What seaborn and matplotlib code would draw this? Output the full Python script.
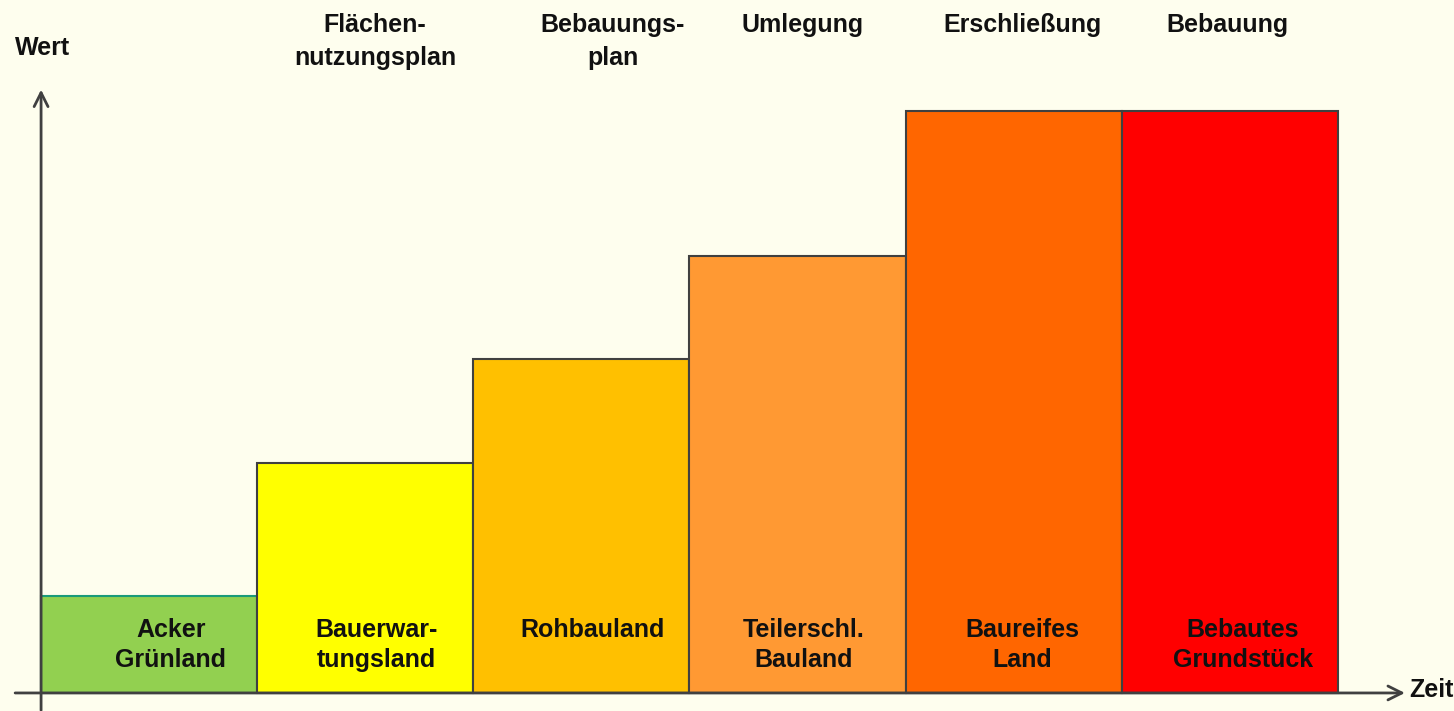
import matplotlib
matplotlib.use("Agg")
import matplotlib.pyplot as plt
import seaborn as sns

sns.set_theme(style="white")
plt.rcParams['font.family'] = ['Liberation Sans', 'DejaVu Sans']

# Daten
stufen = ["Acker\nGrünland", "Bauerwar-\ntungsland", "Rohbauland",
          "Teilerschl.\nBauland", "Baureifes\nLand", "Bebautes\nGrundstück"]
wert = [1.0, 2.37, 3.44, 4.5, 6.0, 6.0]
farben = ["#92D050", "#FFFF00", "#FFC000", "#FF9933", "#FF6600", "#FF0000"]
schritte = ["Flächen-\nnutzungsplan", "Bebauungs-\nplan", "Umlegung",
            "Erschließung", "Bebauung"]

bg = "#FEFEEE"
fig = plt.figure(figsize=(14.54, 7.11), dpi=100, facecolor=bg)
ax = fig.add_axes([0, 0, 1, 1])
ax.set_facecolor(bg)

sns.barplot(x=stufen, y=wert, hue=stufen, palette=farben, width=1.0,
            saturation=1, edgecolor="#404040", linewidth=1.5,
            legend=False, ax=ax)
ax.patches[0].set_edgecolor("#1A9A7A")

ax.set_xlim(-0.69, 6.037)
ax.set_ylim(-0.186, 7.144)
ax.axis("off")

# Beschriftung in den Balken
versatz_unten = [0.1, 0.05, 0.05, 0.03, 0.04, 0.06]
for i, s in enumerate(stufen):
    ax.text(i + versatz_unten[i], 0.77, s, ha="center", va="top", fontsize=18,
            fontweight="bold", color="#111111", linespacing=1.3)

# Schritte oben
versatz_oben = [0.045, 0.146, 0.025, 0.04, -0.01]
for i, s in enumerate(schritte):
    ax.text(i + 1 + versatz_oben[i], 7.01, s, ha="center", va="top",
            fontsize=18, fontweight="bold", color="#111111", linespacing=1.45)

# Achsen mit Pfeilen
ax.annotate("", xy=(-0.5, 6.22), xytext=(-0.5, -0.18),
            arrowprops=dict(arrowstyle="->", color="#404040", lw=2,
                            mutation_scale=25, shrinkA=0, shrinkB=0))
ax.annotate("", xy=(5.81, 0), xytext=(-0.62, 0),
            arrowprops=dict(arrowstyle="->", color="#404040", lw=2,
                            mutation_scale=25, shrinkA=0, shrinkB=0))
ax.text(-0.62, 6.65, "Wert", ha="left", va="center", fontsize=18,
        fontweight="bold", color="#111111")
ax.text(5.83, 0.03, "Zeit", ha="left", va="center", fontsize=18,
        fontweight="bold", color="#111111")

fig.savefig("out.png", dpi=100, facecolor=bg)
